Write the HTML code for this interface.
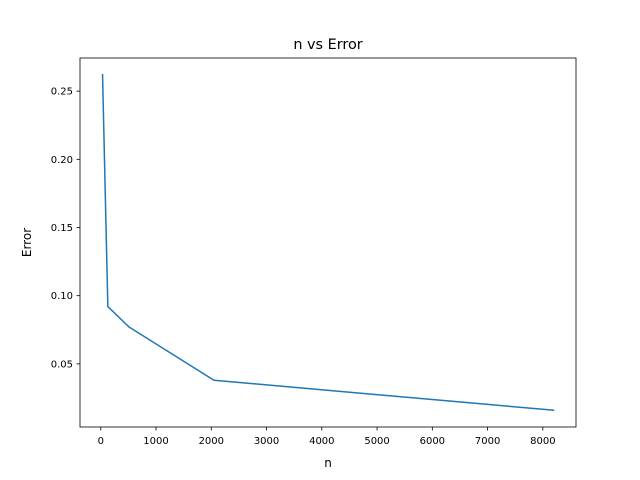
<!DOCTYPE html>
<html><head><meta charset="utf-8"><style>
body{margin:0;background:#fff}
svg{display:block;font-family:"DejaVu Sans","Liberation Sans",sans-serif}
</style></head><body>
<svg id="c" width="640" height="480">
<rect width="640" height="480" fill="#fff"/>
<text x="328" y="49" font-size="14.4" text-anchor="middle">n vs Error</text>
<text x="328" y="467" font-size="12" text-anchor="middle">n</text>
<text transform="translate(31,242.5) rotate(-90)" font-size="12" text-anchor="middle">Error</text>
<g id="g"></g>
<rect x="80" y="58" width="496" height="369" fill="none" stroke="#000" stroke-width="0.8"/>
</svg>
<script>
const nValues=[32,128,512,2048,8192];
const errorValues=[0.262,0.092,0.077,0.038,0.016];
const xTicks=[0,1000,2000,3000,4000,5000,6000,7000,8000];
const yTicks=[0.05,0.10,0.15,0.20,0.25];
const NS="http://www.w3.org/2000/svg";
const g=document.getElementById('g');
const L=80,R=576,T=58,B=427;
const xmin=Math.min(...nValues),xmax=Math.max(...nValues),xm=(xmax-xmin)*0.05;
const ymin=Math.min(...errorValues),ymax=Math.max(...errorValues),ym=(ymax-ymin)*0.05;
const sx=v=>L+(v-(xmin-xm))*(R-L)/((xmax+xm)-(xmin-xm));
const sy=v=>B-(v-(ymin-ym))*(B-T)/((ymax+ym)-(ymin-ym));
function el(t,a){const e=document.createElementNS(NS,t);for(const k in a)e.setAttribute(k,a[k]);g.appendChild(e);return e;}
xTicks.forEach(v=>{const x=sx(v);
const l=el('line',{x1:x,x2:x,y1:B,y2:B+3.5,stroke:'#000','stroke-width':0.8});


const t=el('text',{x:x,y:B+17,'font-size':10,'text-anchor':'middle'});t.textContent=v;


});
yTicks.forEach(v=>{const y=sy(v);
const l=el('line',{x1:L-3.5,x2:L,y1:y,y2:y,stroke:'#000','stroke-width':0.8});


const t=el('text',{x:L-7,y:y+3.5,'font-size':10,'text-anchor':'end'});t.textContent=v.toFixed(2);


});
const p=el('polyline',{points:nValues.map((n,i)=>sx(n)+','+sy(errorValues[i])).join(' '),fill:'none',stroke:'#1f77b4','stroke-width':1.5,'stroke-linejoin':'round','stroke-linecap':'square'});


</script>
</body></html>
